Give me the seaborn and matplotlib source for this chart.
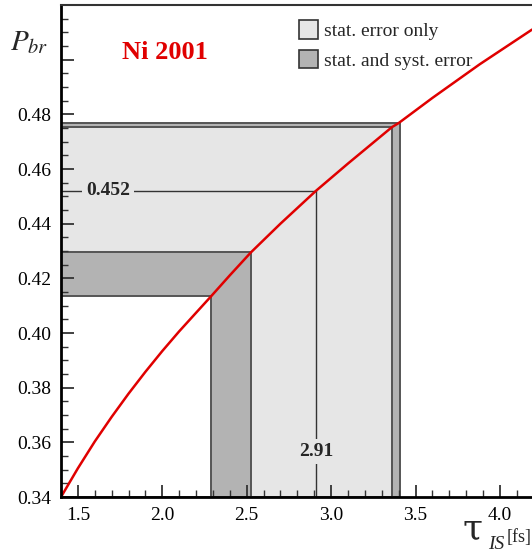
import matplotlib
matplotlib.use("Agg")
import matplotlib.pyplot as plt
import seaborn as sns
import pandas as pd
from matplotlib.patches import Rectangle, Patch
from matplotlib.ticker import MultipleLocator, FuncFormatter

# --- data ---
tau_curve = [1.40, 1.50, 1.60, 1.70, 1.80, 1.90, 2.00, 2.10, 2.20, 2.29,
             2.40, 2.525, 2.70, 2.91, 3.10, 3.36, 3.40, 3.60, 3.88, 4.19]
p_curve = [0.3400, 0.3505, 0.3603, 0.3693, 0.3778, 0.3858, 0.3934, 0.4006, 0.4074, 0.4135,
           0.4211, 0.4295, 0.4400, 0.4520, 0.4620, 0.4753, 0.4768, 0.4860, 0.4983, 0.5110]

tau_best = 2.91
p_best = 0.452
tau_stat = [2.525, 3.36]     # stat. error only
p_stat = [0.4295, 0.4753]
tau_syst = [2.288, 3.408]    # stat. and syst. error
p_syst = [0.4135, 0.4770]

xlim = (1.40, 4.19)
ylim = (0.34, 0.52)

light = "#e6e6e6"
dark = "#b3b3b3"
edge = "#555555"

sns.set_theme(style="ticks")
plt.rcParams["font.family"] = ["Liberation Serif", "DejaVu Serif"]
plt.rcParams["mathtext.fontset"] = "stix"

fig = plt.figure(figsize=(5.32, 5.52), dpi=100)
ax = fig.add_axes([61 / 532, 1 - 497 / 552, 1 - 61 / 532, (497 - 5) / 552])
ax.set_axisbelow(False)

# nested boxes: outer syst, stat, inner stat, inner syst (white)
x0, y0 = xlim[0], ylim[0]
boxes = [
    (tau_syst[1], p_syst[1], dark),
    (tau_stat[1], p_stat[1], light),
    (tau_stat[0], p_stat[0], dark),
    (tau_syst[0], p_syst[0], "white"),
]
for tx, py, col in boxes:
    ax.add_patch(Rectangle((x0, y0), tx - x0, py - y0, facecolor=col,
                           edgecolor=edge, linewidth=1.4, zorder=1))

# central value guide lines
ax.plot([x0, tau_best], [p_best, p_best], color="#333333", lw=1.0, zorder=1.6)
ax.plot([tau_best, tau_best], [y0, p_best], color="#333333", lw=1.0, zorder=1.6)
ax.text(1.678, p_best, f"{p_best:.3f}", fontsize=14, fontweight="bold",
        ha="center", va="center", zorder=1.7,
        bbox=dict(facecolor=light, edgecolor="none", pad=3))
ax.text(tau_best, 0.3565, f"{tau_best:.2f}", fontsize=14, fontweight="bold",
        ha="center", va="center", zorder=1.7,
        bbox=dict(facecolor=light, edgecolor="none", pad=3))

curve = pd.DataFrame({"tau": tau_curve, "p": p_curve})
sns.lineplot(data=curve, x="tau", y="p", color="#e00000", lw=1.8, ax=ax,
             zorder=3)

ax.text(2.015, 0.5025, "Ni 2001", color="#e00000", fontsize=19,
        fontweight="bold", ha="center", va="center")

ax.set_xlim(*xlim)
ax.set_ylim(*ylim)
ax.set_xlabel("")
ax.set_ylabel("")

ax.xaxis.set_major_locator(MultipleLocator(0.5))
ax.xaxis.set_minor_locator(MultipleLocator(0.1))
ax.yaxis.set_major_locator(MultipleLocator(0.02))
ax.yaxis.set_minor_locator(MultipleLocator(0.005))
ax.xaxis.set_major_formatter(FuncFormatter(lambda v, p: f"{v:.1f}"))
ax.yaxis.set_major_formatter(FuncFormatter(lambda v, p: f"{v:.2f}" if v < 0.485 else ""))

ax.tick_params(which="both", direction="in", top=False, right=False,
               colors="#333333", labelsize=14, labelcolor="black")
ax.tick_params(which="major", length=9, width=1.3, pad=7)
ax.tick_params(which="minor", length=5, width=1.0)

ax.spines["right"].set_visible(False)
ax.spines["left"].set_linewidth(2)
ax.spines["bottom"].set_linewidth(2)
ax.spines["left"].set_color("black")
ax.spines["bottom"].set_color("black")
ax.spines["top"].set_linewidth(1.5)
ax.spines["top"].set_color("#333333")
for sp in ax.spines.values():
    sp.set_zorder(4)

handles = [Patch(facecolor=light, edgecolor="#333333", lw=1.2, label="stat. error only"),
           Patch(facecolor=dark, edgecolor="#333333", lw=1.2, label="stat. and syst. error")]
fig.legend(handles=handles, loc="upper left", bbox_to_anchor=(299 / 532, 1 - 20 / 552),
           frameon=False, fontsize=14, handlelength=1.0, handleheight=1.1,
           handletextpad=0.3, labelspacing=0.5, borderpad=0, borderaxespad=0)

fig.text(10 / 532, 1 - 50 / 552, r"$P_{br}$", fontsize=21, ha="left", va="baseline")
fig.text(462 / 532, 1 - 538 / 552, "τ", fontsize=26, family="DejaVu Serif",
         ha="left", va="baseline")
fig.text(488 / 532, 1 - 549 / 552, "IS", fontsize=14, style="italic", ha="left", va="baseline")
fig.text(507 / 532, 1 - 542 / 552, "[fs]", fontsize=13, ha="left", va="baseline")

fig.savefig("out.png", dpi=100)
